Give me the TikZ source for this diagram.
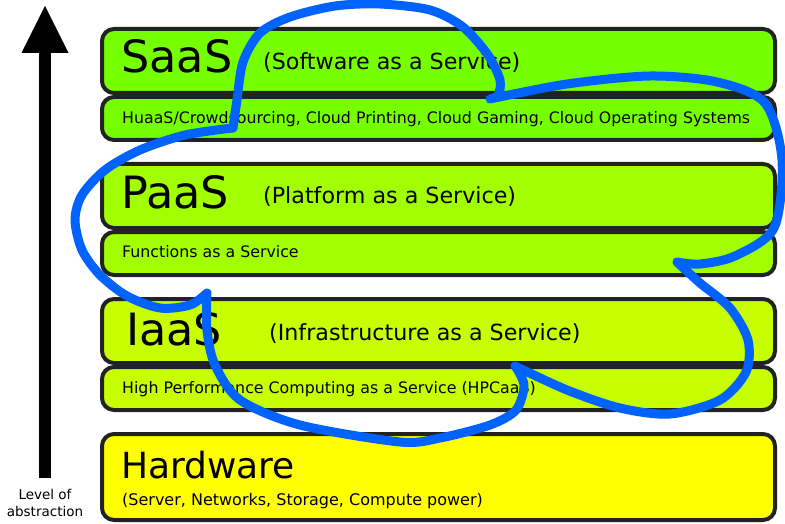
\documentclass[tikz,border=0pt]{standalone}
\usepackage{fontspec}
\setmainfont{DejaVu Sans}
\usepackage{xcolor}
\usepackage{tikz}
\usetikzlibrary{arrows.meta, positioning}
\definecolor{saascol}{RGB}{118,255,0}
\definecolor{paascol}{RGB}{162,255,0}
\definecolor{iaascol}{RGB}{200,255,0}
\definecolor{hwcol}{RGB}{255,255,0}
\definecolor{edgecol}{RGB}{34,34,34}
\definecolor{penblue}{RGB}{0,98,255}
\tikzstyle{layer} = [rectangle, rounded corners=12pt, draw=edgecol, line width=4pt, minimum width=673pt, minimum height=64pt, inner sep=0pt, outer sep=0pt, anchor=north west]
\tikzstyle{sublayer} = [layer, minimum height=43pt, anchor=north]
\tikzstyle{big} = [anchor=base west, inner sep=0pt, font=\fontsize{44.5}{50}\selectfont]
\tikzstyle{mid} = [anchor=base west, inner sep=0pt, font=\fontsize{22.2}{26}\selectfont]
\tikzstyle{small} = [anchor=base west, inner sep=0pt, font=\fontsize{15.8}{18}\selectfont]
\tikzstyle{scribble} = [draw=penblue, line width=9pt, line cap=round, line join=round]
\begin{document}
\begin{tikzpicture}[x=1pt, y=-1pt, node distance=4pt]
   \useasboundingbox (0,0) rectangle (785,524);
   % layers
   \node (saas) [layer, fill=saascol] at (102,29) {};
   \node (saassub) [sublayer, fill=saascol, below=of saas] {};
   \node (paas) [layer, fill=paascol] at (102,164) {};
   \node (paassub) [sublayer, fill=paascol, below=of paas] {};
   \node (iaas) [layer, fill=iaascol] at (102,299) {};
   \node (iaassub) [sublayer, fill=iaascol, below=of iaas] {};
   \node (hw) [layer, fill=hwcol, minimum height=86pt] at (102,434) {};
   % texts
   \node (saast) [big] at (121,73) {SaaS};
   \node (saasl) [mid] at (263,70) {(Software as a Service)};
   \node (saass) [small] at (122,124) {HuaaS/Crowdsourcing, Cloud Printing, Cloud Gaming, Cloud Operating Systems};
   \node (paast) [big] at (121,208) {PaaS};
   \node (paasl) [mid] at (263,204) {(Platform as a Service)};
   \node (paass) [small] at (122,258) {Functions as a Service};
   \node (iaast) [big] at (126,345) {IaaS};
   \node (iaasl) [mid] at (269,340) {(Infrastructure as a Service)};
   \node (iaass) [small] at (122,393) {High Performance Computing as a Service (HPCaaS)};
   \node (hwt) [anchor=base west, inner sep=0pt, font=\fontsize{36}{42}\selectfont] at (121,478) {Hardware};
   \node (hwl) [anchor=base west, inner sep=0pt, font=\fontsize{16}{19}\selectfont] at (122,505) {(Server, Networks, Storage, Compute power)};
   % abstraction arrow
   \coordinate (abase) at (45,478);
   \coordinate (atip) at (45,6);
   \draw [line width=12pt, -{Triangle[length=47pt, width=47pt, line width=0pt]}] (abase) -- (atip);
   \node (alabel) [anchor=north, inner sep=0pt, align=center, font=\fontsize{13.5}{17}\selectfont] at (45,489) {Level of\\abstraction};
   % blue scribble
   \draw [scribble] plot [smooth] coordinates {(490,99) (567,84) (650,76) (717,82) (765,103) (782,160) (774,228) (735,256) (700,264) (677,262)}
      -- plot [smooth] coordinates {(677,262) (700,283) (730,308) (748,340) (746,372) (720,400) (670,414) (620,408) (567,390) (515,366)}
      -- plot [smooth] coordinates {(515,366) (524,385) (516,410) (490,425) (440,438) (400,442) (300,425) (240,400) (215,365) (207,330) (207,293)}
      -- plot [smooth] coordinates {(207,293) (190,305) (160,308) (127,296) (100,275) (82,250) (75,220) (82,195) (105,170) (140,150) (185,135) (233,128)}
      -- plot [smooth] coordinates {(233,128) (237,100) (243,62) (260,33) (290,17) (335,6) (380,4) (430,10) (463,27) (488,55) (500,80) (498,95) (490,99)};
\end{tikzpicture}
\end{document}
